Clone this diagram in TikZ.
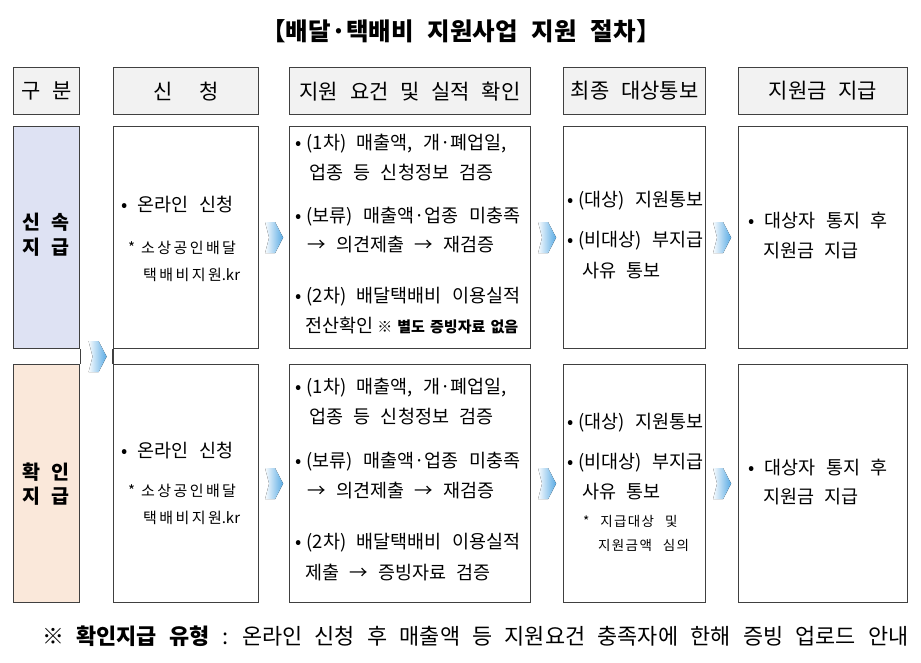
\documentclass[tikz,border=0pt]{standalone}
\usepackage{fontspec}
\setmainfont{Noto Sans CJK KR}[WordSpace=2.5]
\newfontfamily\smallfam{Noto Sans CJK KR}[WordSpace=2.5, LetterSpace=16]
\newfontfamily\smallerfam{Noto Sans CJK KR}[WordSpace=2.5, LetterSpace=10]
\newfontfamily\notefam{Noto Sans CJK KR}[WordSpace=1.5]
\usetikzlibrary{calc}
\definecolor{boxc}{RGB}{64,64,64}
\definecolor{hdrfill}{RGB}{242,242,242}
\definecolor{rowa}{RGB}{222,226,243}
\definecolor{rowb}{RGB}{250,232,218}
\definecolor{chevblue}{RGB}{88,170,228}
\newcommand{\bodyf}{\fontsize{18.5}{21}\selectfont}
\newcommand{\smallf}{\smallfam\fontsize{15}{17}\selectfont}
\newcommand{\kr}{{\rmfamily\fontsize{15}{17}\selectfont .kr}}
\newcommand{\smallerf}{\smallerfam\fontsize{13.5}{16}\selectfont}
\newcommand{\notef}{\notefam\fontsize{15}{17}\selectfont\bfseries}
\newcommand{\hdrf}{\fontsize{21}{24}\selectfont}
\newcommand{\pb}{•\hspace{5pt}}
\tikzset{
  cell/.style={draw=boxc, line width=1.2pt, anchor=north west, inner sep=0pt},
  hdr/.style={cell, fill=hdrfill, minimum height=47pt, font=\hdrf},
  txt/.style={inner sep=0pt, anchor=west, font=\bodyf},
  smtxt/.style={inner sep=0pt, anchor=west, font=\smallf},
  smrtxt/.style={inner sep=0pt, anchor=west, font=\smallerf},
  sidetxt/.style={inner sep=0pt, anchor=center, font=\fontsize{19.5}{22}\selectfont\bfseries},
  pics/chevron/.style={code={
    \fill[left color=chevblue!4, right color=chevblue]
      (-9,-15.5) -- (1,-15.5) -- (9,0) -- (1,15.5) -- (-9,15.5) -- (-5,0) -- cycle;}}
}
\begin{document}
\begin{tikzpicture}[x=1pt,y=-1pt]
\path[use as bounding box, fill=white] (0,0) rectangle (921,662);
% title
\node[inner sep=0pt, font=\fontsize{24.5}{27}\selectfont\bfseries] (title) at (461,31) {【배달·택배비 지원사업 지원 절차】};
% header row
\node[hdr, minimum width=66pt] (h0) at (13,67) {구 분};
\node[hdr, minimum width=145pt] (h1) at (113,67) {신\hspace{1.3em}청};
\node[hdr, minimum width=241pt] (h2) at (289,67) {지원 요건 및 실적 확인};
\node[hdr, minimum width=142pt] (h3) at (563,67) {최종 대상통보};
\node[hdr, minimum width=169pt] (h4) at (738,67) {지원금 지급};
% row 1
\node[cell, fill=rowa, minimum width=66pt, minimum height=222pt] (r1c0) at (13,126) {};
\node[cell, minimum width=145pt, minimum height=222pt] (r1c1) at (113,126) {};
\node[cell, minimum width=241pt, minimum height=222pt] (r1c2) at (289,126) {};
\node[cell, minimum width=142pt, minimum height=222pt] (r1c3) at (563,126) {};
\node[cell, minimum width=169pt, minimum height=222pt] (r1c4) at (738,126) {};
% row 2
\node[cell, fill=rowb, minimum width=66pt, minimum height=238pt] (r2c0) at (13,364) {};
\node[cell, minimum width=145pt, minimum height=238pt] (r2c1) at (113,364) {};
\node[cell, minimum width=241pt, minimum height=238pt] (r2c2) at (289,364) {};
\node[cell, minimum width=142pt, minimum height=238pt] (r2c3) at (563,364) {};
\node[cell, minimum width=169pt, minimum height=238pt] (r2c4) at (738,364) {};
% bridging lines
\draw[draw=boxc, line width=1.2pt] (r1c0.south east) -- (r2c0.north east);
\draw[draw=boxc, line width=1.2pt] (r1c1.south west) -- (r2c1.north west);
% chevrons
\pic at ($(r1c1.east)!0.5!(r1c2.west)$) {chevron};
\pic at ($(r1c2.east)!0.5!(r1c3.west)$) {chevron};
\pic at ($(r1c3.east)!0.5!(r1c4.west)$) {chevron};
\pic at ($(r2c1.east)!0.5!(r2c2.west)$) {chevron};
\pic at ($(r2c2.east)!0.5!(r2c3.west)$) {chevron};
\pic at ($(r2c3.east)!0.5!(r2c4.west)$) {chevron};
\pic at ($(r1c0.south east)!0.5!(r2c1.north west)+(1,0)$) {chevron};
% side labels
\node[sidetxt] (s1a) at (46,222) {신 속};
\node[sidetxt] (s1b) at (46,247) {지 급};
\node[sidetxt] (s2a) at (46,472) {확 인};
\node[sidetxt] (s2b) at (46,496) {지 급};
% row1 col1
\node[txt] (a11) at (121,205) {• 온라인 신청};
\node[smtxt] (a12) at (128,248) {*\hspace{6pt}소상공인배달};
\node[smtxt] (a13) at (143,275) {택배비지원\kr};
% row2 col1
\node[txt] (a21) at (121,451) {• 온라인 신청};
\node[smtxt] (a22) at (128,491) {*\hspace{6pt}소상공인배달};
\node[smtxt] (a23) at (143,518) {택배비지원\kr};
% row1 col2
\node[txt] (b11) at (295,144) {\pb(1차) 매출액, 개·폐업일,};
\node[txt] (b12) at (309,173) {업종 등 신청정보 검증};
\node[txt] (b13) at (295,217) {\pb(보류) 매출액·업종 미충족};
\node[txt] (b14) at (307,245) {→ 의견제출 → 재검증};
\node[txt] (b15) at (295,297) {\pb(2차) 배달택배비 이용실적};
\node[txt] (b16) at (305,326) {전산확인\hspace{4pt}{\notef ※ 별도 증빙자료 없음}};
% row2 col2
\node[txt] (b21) at (295,388) {\pb(1차) 매출액, 개·폐업일,};
\node[txt] (b22) at (309,417) {업종 등 신청정보 검증};
\node[txt] (b23) at (295,462) {\pb(보류) 매출액·업종 미충족};
\node[txt] (b24) at (307,491) {→ 의견제출 → 재검증};
\node[txt] (b25) at (295,543) {\pb(2차) 배달택배비 이용실적};
\node[txt] (b26) at (305,573) {제출 → 증빙자료 검증};
% row1 col3
\node[txt] (c11) at (567,201) {\pb(대상) 지원통보};
\node[txt] (c12) at (567,241) {\pb(비대상) 부지급};
\node[txt] (c13) at (582,271) {사유 통보};
% row2 col3
\node[txt] (c21) at (567,423) {\pb(대상) 지원통보};
\node[txt] (c22) at (567,463) {\pb(비대상) 부지급};
\node[txt] (c23) at (582,492) {사유 통보};
\node[smrtxt] (c24) at (583,521) {* 지급대상 및};
\node[smrtxt] (c25) at (598,545) {지원금액 심의};
% col4
\node[txt] (d11) at (748,221) {• 대상자 통지 후};
\node[txt] (d12) at (763,251) {지원금 지급};
\node[txt] (d21) at (748,468) {• 대상자 통지 후};
\node[txt] (d22) at (763,497) {지원금 지급};
% footer
\node[inner sep=0pt, anchor=west, font=\fontsize{21.9}{24}\selectfont] (foot) at (42,636) {※ {\bfseries 확인지급 유형} : 온라인 신청 후 매출액 등 지원요건 충족자에 한해 증빙 업로드 안내};
\end{tikzpicture}
\end{document}
